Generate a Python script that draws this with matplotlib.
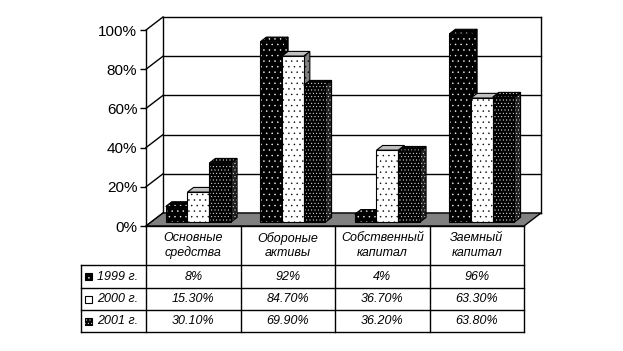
import matplotlib
matplotlib.use('Agg')
import matplotlib.pyplot as plt
import matplotlib.patches as patches

plt.rcParams['font.family'] = ['Liberation Sans', 'DejaVu Sans']
plt.rcParams['hatch.linewidth'] = 0.3

categories = ['Основные\nсредства', 'Обороные\nактивы', 'Собственный\nкапитал', 'Заемный\nкапитал']
years = ['1999 г.', '2000 г.', '2001 г.']
v1999 = [8, 92, 4, 96]
v2000 = [15.3, 84.7, 36.7, 63.3]
v2001 = [30.1, 69.9, 36.2, 63.8]
lab1999 = ['8%', '92%', '4%', '96%']
lab2000 = ['15.30%', '84.70%', '36.70%', '63.30%']
lab2001 = ['30.10%', '69.90%', '36.20%', '63.80%']
yticks = [0, 20, 40, 60, 80, 100]

series = [v1999, v2000, v2001]
labels = [lab1999, lab2000, lab2001]

# face styles: (front, top, side) -> (facecolor, dotcolor, hatch)
STYLES = [
    [('black', 'white', '...'), ('black', 'white', '...'), ('black', 'white', '...')],
    [('white', 'black', '...'), ('#c0c0c0', None, None), ('#808080', 'black', '...')],
    [('black', 'white', '.....'), ('black', 'white', '.....'), ('#202020', 'white', '.....')],
]

# 3D depth in data units
DX = 17 / 94.5
DY = 13 / 1.96
F0, F1 = 0.3, 0.66
BAR_W = 0.23


def face(ax, pts, style, zorder):
    fc, dc, hatch = style
    ax.add_patch(patches.Polygon(pts, closed=True, facecolor=fc, edgecolor='none',
                                 lw=0, zorder=zorder, clip_on=False))
    if hatch:
        ax.add_patch(patches.Polygon(pts, closed=True, facecolor='none', edgecolor=dc,
                                     lw=0, hatch=hatch, zorder=zorder, clip_on=False))
    ax.add_patch(patches.Polygon(pts, closed=True, fill=False, edgecolor='black',
                                 lw=0.8, zorder=zorder, clip_on=False))


def bar3d(ax, x0, h, styles, zorder):
    bx, by = x0 + F0 * DX, F0 * DY
    ddx, ddy = (F1 - F0) * DX, (F1 - F0) * DY
    front = [(bx, by), (bx + BAR_W, by), (bx + BAR_W, by + h), (bx, by + h)]
    top = [(bx, by + h), (bx + BAR_W, by + h), (bx + BAR_W + ddx, by + h + ddy), (bx + ddx, by + h + ddy)]
    side = [(bx + BAR_W, by), (bx + BAR_W + ddx, by + ddy), (bx + BAR_W + ddx, by + h + ddy), (bx + BAR_W, by + h)]
    face(ax, side, styles[2], zorder)
    face(ax, top, styles[1], zorder)
    face(ax, front, styles[0], zorder)


fig = plt.figure(figsize=(6.23, 3.51), dpi=100)
ax = fig.add_axes([146 / 623, 125 / 351, 378 / 623, 196 / 351])
ax.set_xlim(0, 4)
ax.set_ylim(0, 100)
ax.patch.set_visible(False)
for s in ['top', 'right', 'bottom']:
    ax.spines[s].set_visible(False)
ax.spines['left'].set_linewidth(1)
ax.set_xticks([])
ax.set_yticks(yticks)
ax.set_yticklabels(['%d%%' % t for t in yticks], fontsize=11)
ax.tick_params(axis='y', direction='out', length=4.3, width=1, pad=2)

n = len(categories)
kw = dict(color='black', lw=1, clip_on=False)
# back wall and left wall
for t in yticks:
    ax.plot([DX, n + DX], [t + DY, t + DY], zorder=1, **kw)
    ax.plot([0, DX], [t, t + DY], zorder=1, **kw)
ax.plot([DX, DX], [DY, 100 + DY], zorder=1, **kw)
ax.plot([n + DX, n + DX], [DY, 100 + DY], zorder=1, **kw)
# floor
ax.add_patch(patches.Polygon([(0, 0), (n, 0), (n + DX, DY), (DX, DY)], closed=True,
                             facecolor='#808080', edgecolor='black', lw=1, zorder=2, clip_on=False))

group = BAR_W * len(series)
for c in range(n):
    start = c + (1 - group) / 2
    for i, vals in enumerate(series):
        bar3d(ax, start + i * BAR_W, vals[c], STYLES[i], zorder=3 + c * 3 + i)

# data table
tax = fig.add_axes([81 / 623, 19 / 351, 443 / 623, 106 / 351])
x_left = -65 / 94.5
tax.set_xlim(x_left, n)
tax.set_ylim(106, 0)
tax.axis('off')
rows = [0, 39, 62, 84, 106]
tkw = dict(color='black', lw=1, clip_on=False)
tax.plot([0, n], [0, 0], **tkw)
for r in rows[1:]:
    tax.plot([x_left, n], [r, r], **tkw)
tax.plot([x_left, x_left], [rows[1], rows[-1]], **tkw)
for c in range(n + 1):
    tax.plot([c, c], [0, rows[-1]], **tkw)

for c, cat in enumerate(categories):
    tax.text(c + 0.5, 19.5, cat, ha='center', va='center', fontsize=9,
             style='italic', linespacing=1.25)
for i, yr in enumerate(years):
    yc = (rows[i + 1] + rows[i + 2]) / 2
    kx = (85 - 146) / 94.5
    tax.add_patch(patches.Rectangle((kx, yc - 3.5), 7 / 94.5, 7, facecolor=STYLES[i][0][0],
                                    edgecolor='black', lw=0.8, clip_on=False))
    if STYLES[i][0][0] == 'black':
        tax.add_patch(patches.Rectangle((kx, yc - 3.5), 7 / 94.5, 7, facecolor='none',
                                        edgecolor=STYLES[i][0][1], lw=0,
                                        hatch=STYLES[i][0][2], clip_on=False))
    tax.text((97 - 146) / 94.5, yc + 0.5, yr, ha='left', va='center', fontsize=9, style='italic')
    for c in range(n):
        tax.text(c + 0.5, yc + 0.5, labels[i][c], ha='center', va='center', fontsize=9,
                 style='italic')

fig.savefig('out.png', dpi=100)
